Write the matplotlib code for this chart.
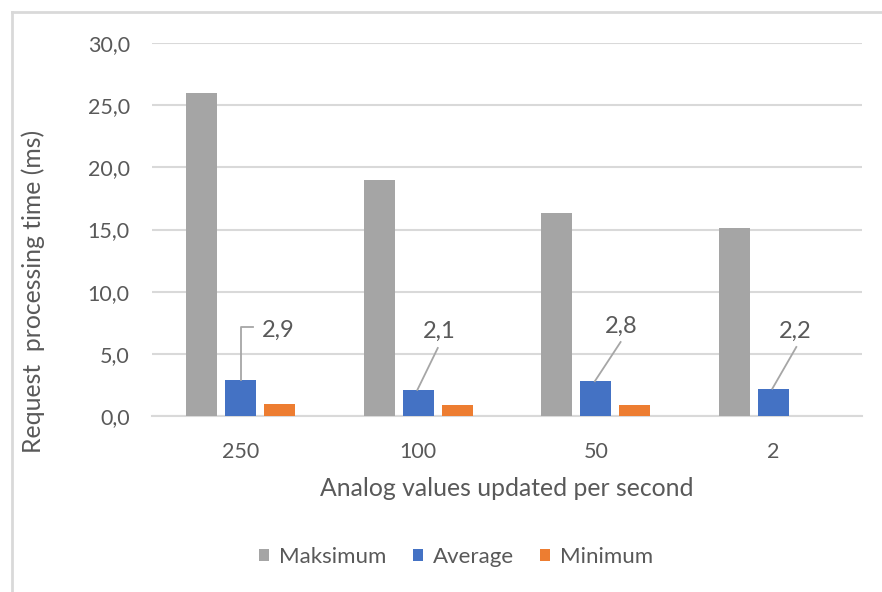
import matplotlib.pyplot as plt
from matplotlib.lines import Line2D
import numpy as np

plt.rcParams['font.family'] = ['Lato', 'DejaVu Sans']

categories = ['250', '100', '50', '2']
maksimum = [26.0, 19.0, 16.3, 15.1]
average = [2.9, 2.1, 2.8, 2.2]
minimum = [1.0, 0.9, 0.9, 0.0]

# data label placement for the "Average" series: leader end (dx, y) and text centre (dx, y)
leader_end = [(0.07, 7.16), (0.11, 5.47), (0.14, 5.95), (0.13, 5.55)]
label_xy = [(0.21, 6.92), (0.12, 6.84), (0.145, 7.24), (0.125, 6.84)]

txt = '#595959'
grid = '#d9d9d9'

fig = plt.figure(figsize=(8.82, 5.92), dpi=100)
ax = fig.add_axes([152 / 882, 1 - 416 / 592, 710 / 882, 373 / 592])

x = np.arange(len(categories))
w = 0.175
step = 0.22
ax.bar(x - step, maksimum, w, color='#a5a5a5', label='Maksimum', zorder=3)
ax.bar(x, average, w, color='#4472c4', label='Average', zorder=3)
ax.bar(x + step, minimum, w, color='#ed7d31', label='Minimum', zorder=3)

for i, v in enumerate(average):
    s = f'{v:.1f}'.replace('.', ',')
    ex, ey = leader_end[i]
    tx, ty = label_xy[i]
    if i == 0:
        # elbow-shaped leader
        ax.plot([x[i], x[i], x[i] + ex], [v, ey, ey], color='#a6a6a6', lw=1.3, zorder=4)
    else:
        ax.plot([x[i] - 0.005, x[i] + ex], [v, ey], color='#a6a6a6', lw=1.3, zorder=4)
    ax.text(x[i] + tx, ty, s, ha='center', va='center', fontsize=17, color=txt)

ax.set_xlim(-0.5, 3.5)
ax.set_ylim(0, 30)
yt = np.arange(0, 31, 5)
ax.set_yticks(yt)
ax.set_yticklabels([f'{t:.1f}'.replace('.', ',') for t in yt])
ax.set_xticks(x)
ax.set_xticklabels(categories)
ax.yaxis.grid(True, color=grid, lw=1.5, zorder=0)
ax.tick_params(length=0, labelsize=15.5, labelcolor=txt)
ax.tick_params(axis='x', pad=19)
ax.tick_params(axis='y', pad=16)
for sp in ['top', 'right', 'left']:
    ax.spines[sp].set_visible(False)
ax.spines['bottom'].set_color(grid)
ax.spines['bottom'].set_linewidth(1.5)

ax.set_xlabel('Analog values updated per second', fontsize=17.8, color=txt, va='center')
ax.set_ylabel('Request  processing time (ms)', fontsize=17.8, color=txt, va='center')
ax.xaxis.set_label_coords(0.5, (416 - 488) / 373)
ax.yaxis.set_label_coords((33 - 152) / 710, (416 - 291) / 373)

fig.legend(loc='center', bbox_to_anchor=(456 / 882, 1 - 557 / 592), ncol=3, frameon=False,
           fontsize=16, labelcolor=txt, handlelength=0.45, handleheight=0.45,
           handletextpad=0.45, columnspacing=1.2)

# chart frame (only left and top edges are in view)
fig.add_artist(Line2D([12 / 882, 12 / 882], [0, 1 - 12 / 592], color=grid, lw=2))
fig.add_artist(Line2D([12 / 882, 1], [1 - 12 / 592, 1 - 12 / 592], color=grid, lw=2))

fig.savefig('out.png', dpi=100)
